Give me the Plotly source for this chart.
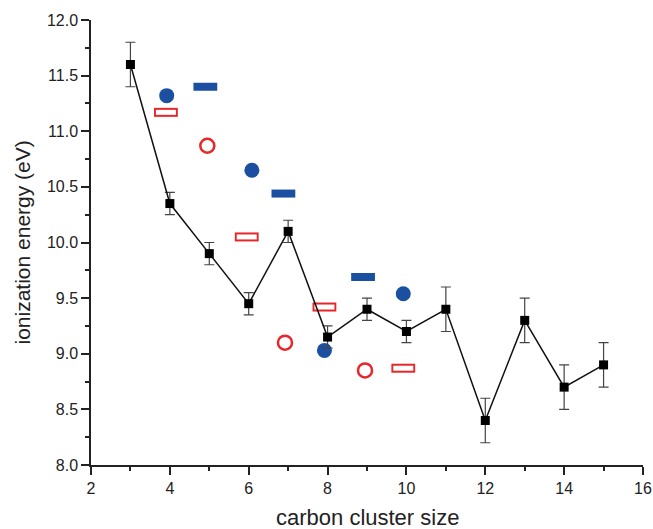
import plotly.graph_objects as go

# Measured (black squares with error bars)
cluster_size = [3, 4, 5, 6, 7, 8, 9, 10, 11, 12, 13, 14, 15]
ie_measured = [11.6, 10.35, 9.9, 9.45, 10.1, 9.15, 9.4, 9.2, 9.4, 8.4, 9.3, 8.7, 8.9]
ie_err = [0.2, 0.1, 0.1, 0.1, 0.1, 0.1, 0.1, 0.1, 0.2, 0.2, 0.2, 0.2, 0.2]

# Blue filled circles
blue_circ_x = [3.92, 6.08, 7.92, 9.92]
blue_circ_y = [11.32, 10.65, 9.03, 9.54]
# Blue filled bars
blue_bar_x = [4.9, 6.88, 8.9]
blue_bar_y = [11.4, 10.44, 9.69]
# Red open circles
red_circ_x = [4.95, 6.92, 8.95]
red_circ_y = [10.87, 9.1, 8.85]
# Red open rectangles
red_rect_x = [3.9, 5.95, 7.92, 9.92]
red_rect_y = [11.17, 10.05, 9.42, 8.87]

x_title = "carbon cluster size"
y_title = "ionization energy (eV)"

BLUE = "#1b4f9f"
RED = "#e8262a"
AX = "#222222"

fig = go.Figure()

# red open rectangles: red thick bar with white inner bar
fig.add_trace(go.Scatter(x=red_rect_x, y=red_rect_y, mode="markers",
                         marker=dict(symbol="line-ew", size=17, color=RED,
                                     line=dict(width=9, color=RED)),
                         showlegend=False, hoverinfo="skip"))
fig.add_trace(go.Scatter(x=red_rect_x, y=red_rect_y, mode="markers",
                         marker=dict(symbol="line-ew", size=14.3, color="white",
                                     line=dict(width=5, color="white")),
                         showlegend=False, hoverinfo="skip"))
# blue bars
fig.add_trace(go.Scatter(x=blue_bar_x, y=blue_bar_y, mode="markers",
                         marker=dict(symbol="line-ew", size=17, color=BLUE,
                                     line=dict(width=8, color=BLUE)),
                         showlegend=False))
# blue circles
fig.add_trace(go.Scatter(x=blue_circ_x, y=blue_circ_y, mode="markers",
                         marker=dict(symbol="circle", size=15, color=BLUE,
                                     line=dict(width=0)),
                         showlegend=False))
# red open circles
fig.add_trace(go.Scatter(x=red_circ_x, y=red_circ_y, mode="markers",
                         marker=dict(symbol="circle-open", size=14, color=RED,
                                     line=dict(width=2.5, color=RED)),
                         showlegend=False))
# measured
fig.add_trace(go.Scatter(x=cluster_size, y=ie_measured, mode="lines+markers",
                         line=dict(color="#111111", width=1.5),
                         marker=dict(symbol="square", size=9, color="black"),
                         error_y=dict(type="data", array=ie_err, visible=True,
                                      color="#444444", thickness=1.2, width=5),
                         showlegend=False))

font = "Liberation Sans, Arial, sans-serif"
fig.update_layout(
    width=653, height=529,
    margin=dict(l=91, r=10, t=20, b=64),
    paper_bgcolor="white", plot_bgcolor="white",
    font=dict(family=font, color=AX, size=16),
    annotations=[
        dict(text=x_title, xref="paper", yref="paper", x=0.5, y=-0.1169,
             xanchor="center", yanchor="middle", showarrow=False,
             font=dict(size=22, color=AX)),
        dict(text=y_title, xref="paper", yref="paper", x=-0.125, y=0.5,
             xanchor="center", yanchor="middle", showarrow=False, textangle=-90,
             font=dict(size=21, color=AX)),
    ],
)
fig.update_xaxes(range=[2, 16], dtick=2, tick0=2,
                 showgrid=False, zeroline=False,
                 automargin=False, ticklabeloverflow="allow",
                 showline=True, linecolor=AX, linewidth=1.5,
                 ticks="outside", ticklen=8, tickwidth=1.5, tickcolor=AX,
                 minor=dict(dtick=1, tick0=2, ticks="outside", ticklen=4, tickwidth=1.5, tickcolor=AX),
                 tickfont=dict(size=16))
fig.update_yaxes(range=[8, 12], dtick=0.5, tick0=8, tickformat=".1f",
                 showgrid=False, zeroline=False, automargin=False,
                 showline=True, linecolor=AX, linewidth=1.5,
                 ticks="outside", ticklen=8, tickwidth=1.5, tickcolor=AX,
                 minor=dict(dtick=0.25, ticks="outside", ticklen=4, tickwidth=1.5, tickcolor=AX),
                 tickfont=dict(size=16))

fig.write_html("out.html",
               config={"displayModeBar": False},
               post_script="document.body.style.margin='0px';"
                           "document.documentElement.style.overflow='hidden';")
